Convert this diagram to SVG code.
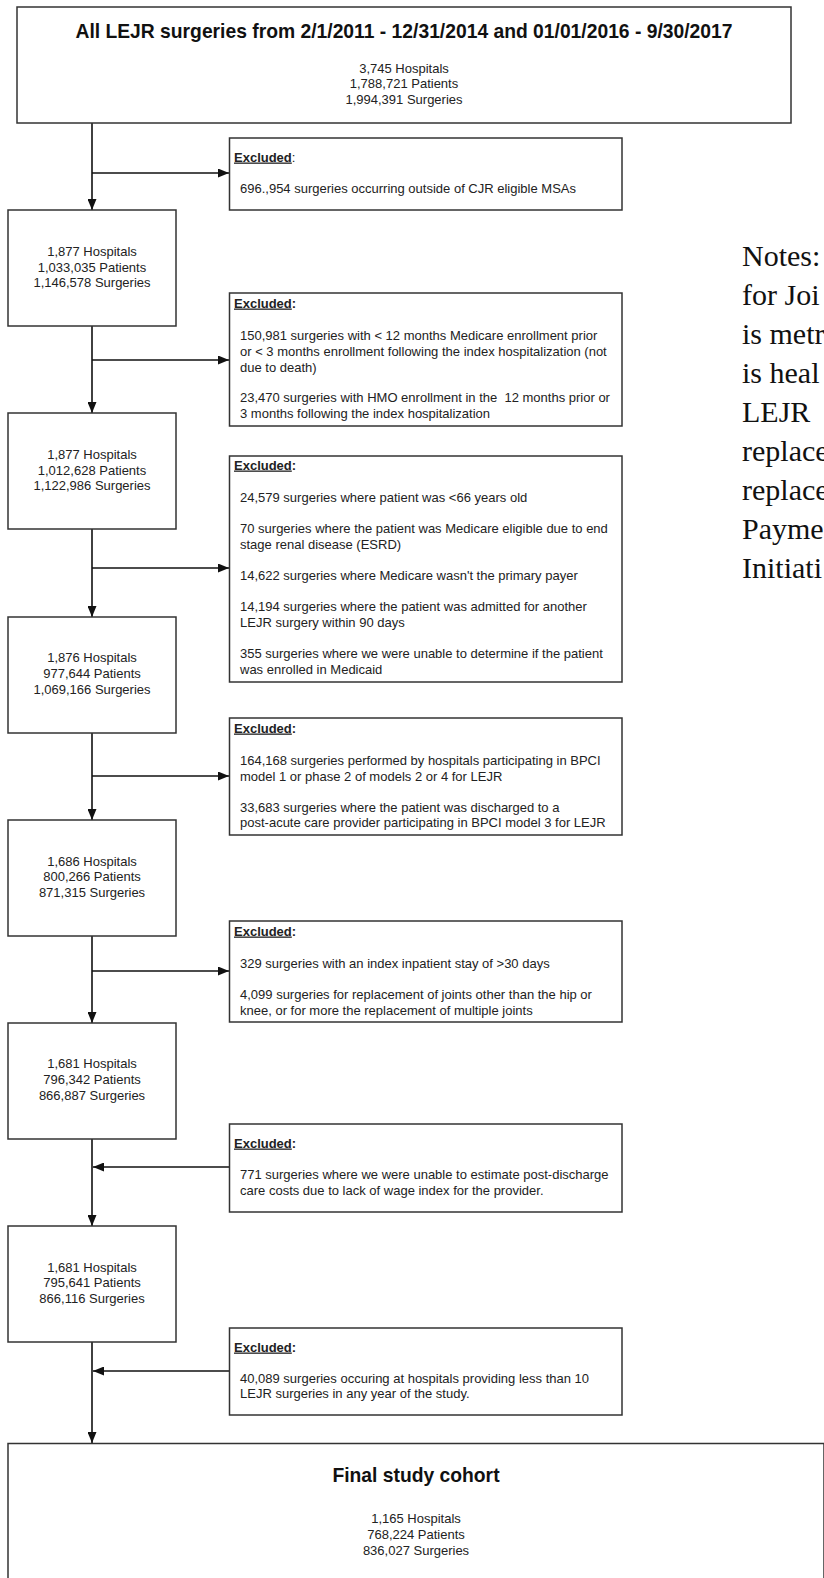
<svg xmlns="http://www.w3.org/2000/svg" width="824" height="1578" viewBox="0 0 824 1578">
<style>
.box{fill:#fff;stroke:#333;stroke-width:1.5}
.t{font-family:"Liberation Sans",Arial,sans-serif;font-size:13px;fill:#222}
.c{text-anchor:middle}
.h{font-family:"Liberation Sans",Arial,sans-serif;font-weight:bold;font-size:19.3px;fill:#111;text-anchor:middle}
.ex{font-family:"Liberation Sans",Arial,sans-serif;font-size:13px;font-weight:bold;fill:#222}
.u{text-decoration:underline}
.cn{fill:none;stroke:#111;stroke-width:1.6}
.note{font-family:"Liberation Serif","Times New Roman",serif;font-size:30px;fill:#111}
</style>
<defs>
<marker id="ah" viewBox="0 0 11 9" refX="11" refY="4.5" markerWidth="11" markerHeight="9" markerUnits="userSpaceOnUse" orient="auto">
<path d="M0,0 L11,4.5 L0,9 Z" fill="#111"/>
</marker>
</defs>

<g id="connectors">
<line class="cn" x1="92" y1="123" x2="92" y2="210" marker-end="url(#ah)"/>
<line class="cn" x1="92" y1="173" x2="229" y2="173" marker-end="url(#ah)"/>
<line class="cn" x1="92" y1="326" x2="92" y2="413" marker-end="url(#ah)"/>
<line class="cn" x1="92" y1="360" x2="229" y2="360" marker-end="url(#ah)"/>
<line class="cn" x1="92" y1="529" x2="92" y2="617" marker-end="url(#ah)"/>
<line class="cn" x1="92" y1="568" x2="229" y2="568" marker-end="url(#ah)"/>
<line class="cn" x1="92" y1="733" x2="92" y2="820" marker-end="url(#ah)"/>
<line class="cn" x1="92" y1="776" x2="229" y2="776" marker-end="url(#ah)"/>
<line class="cn" x1="92" y1="936" x2="92" y2="1023" marker-end="url(#ah)"/>
<line class="cn" x1="92" y1="971" x2="229" y2="971" marker-end="url(#ah)"/>
<line class="cn" x1="92" y1="1139" x2="92" y2="1226" marker-end="url(#ah)"/>
<line class="cn" x1="229" y1="1167" x2="93" y2="1167" marker-end="url(#ah)"/>
<line class="cn" x1="92" y1="1342" x2="92" y2="1443" marker-end="url(#ah)"/>
<line class="cn" x1="229" y1="1371" x2="93" y2="1371" marker-end="url(#ah)"/>
</g>

<g id="top">
<rect class="box" x="17" y="7" width="774" height="116"/>
<text class="h" x="404" y="38">All LEJR surgeries from 2/1/2011 - 12/31/2014 and 01/01/2016 - 9/30/2017</text>
<text class="t c" x="404" y="72.8">3,745 Hospitals</text>
<text class="t c" x="404" y="88">1,788,721 Patients</text>
<text class="t c" x="404" y="103.5">1,994,391 Surgeries</text>
</g>

<g id="ex1">
<rect class="box" x="229.5" y="138" width="392.5" height="72"/>
<text class="ex" x="234" y="161.5"><tspan class="u">Excluded</tspan><tspan font-weight="normal">:</tspan></text>
<text class="t" x="240" y="192.5">696.,954 surgeries occurring outside of CJR eligible MSAs</text>
</g>

<g id="nA">
<rect class="box" x="8" y="210" width="168" height="116"/>
<text class="t c" x="92" y="255.5">1,877 Hospitals</text>
<text class="t c" x="92" y="271.5">1,033,035 Patients</text>
<text class="t c" x="92" y="286.5">1,146,578 Surgeries</text>
</g>

<g id="ex2">
<rect class="box" x="229.5" y="293" width="392.5" height="133"/>
<text class="ex" x="234" y="307.5"><tspan class="u">Excluded</tspan>:</text>
<text class="t" x="240" y="339.5">150,981 surgeries with &lt; 12 months Medicare enrollment prior</text>
<text class="t" x="240" y="355.5">or &lt; 3 months enrollment following the index hospitalization (not</text>
<text class="t" x="240" y="371.5">due to death)</text>
<text class="t" x="240" y="401.5" xml:space="preserve">23,470 surgeries with HMO enrollment in the  12 months prior or</text>
<text class="t" x="240" y="417.5">3 months following the index hospitalization</text>
</g>

<g id="nB">
<rect class="box" x="8" y="413" width="168" height="116"/>
<text class="t c" x="92" y="458.5">1,877 Hospitals</text>
<text class="t c" x="92" y="474.5">1,012,628 Patients</text>
<text class="t c" x="92" y="489.5">1,122,986 Surgeries</text>
</g>

<g id="ex3">
<rect class="box" x="229.5" y="456" width="392.5" height="226"/>
<text class="ex" x="234" y="469.5"><tspan class="u">Excluded</tspan>:</text>
<text class="t" x="240" y="501.5">24,579 surgeries where patient was &lt;66 years old</text>
<text class="t" x="240" y="532.5">70 surgeries where the patient was Medicare eligible due to end</text>
<text class="t" x="240" y="548.5">stage renal disease (ESRD)</text>
<text class="t" x="240" y="579.5">14,622 surgeries where Medicare wasn't the primary payer</text>
<text class="t" x="240" y="610.5">14,194 surgeries where the patient was admitted for another</text>
<text class="t" x="240" y="626.5">LEJR surgery within 90 days</text>
<text class="t" x="240" y="657.5">355 surgeries where we were unable to determine if the patient</text>
<text class="t" x="240" y="673.5">was enrolled in Medicaid</text>
</g>

<g id="nC">
<rect class="box" x="8" y="617" width="168" height="116"/>
<text class="t c" x="92" y="661.5">1,876 Hospitals</text>
<text class="t c" x="92" y="677.5">977,644 Patients</text>
<text class="t c" x="92" y="693.5">1,069,166 Surgeries</text>
</g>

<g id="ex4">
<rect class="box" x="229.5" y="718" width="392.5" height="117"/>
<text class="ex" x="234" y="732.5"><tspan class="u">Excluded</tspan>:</text>
<text class="t" x="240" y="764.5">164,168 surgeries performed by hospitals participating in BPCI</text>
<text class="t" x="240" y="780.5">model 1 or phase 2 of models 2 or 4 for LEJR</text>
<text class="t" x="240" y="811.5">33,683 surgeries where the patient was discharged to a</text>
<text class="t" x="240" y="826.5">post-acute care provider participating in BPCI model 3 for LEJR</text>
</g>

<g id="nD">
<rect class="box" x="8" y="820" width="168" height="116"/>
<text class="t c" x="92" y="865.5">1,686 Hospitals</text>
<text class="t c" x="92" y="880.5">800,266 Patients</text>
<text class="t c" x="92" y="896.5">871,315 Surgeries</text>
</g>

<g id="ex5">
<rect class="box" x="229.5" y="921" width="392.5" height="101"/>
<text class="ex" x="234" y="935.5"><tspan class="u">Excluded</tspan>:</text>
<text class="t" x="240" y="967.5">329 surgeries with an index inpatient stay of &gt;30 days</text>
<text class="t" x="240" y="998.5">4,099 surgeries for replacement of joints other than the hip or</text>
<text class="t" x="240" y="1014.5">knee, or for more the replacement of multiple joints</text>
</g>

<g id="nE">
<rect class="box" x="8" y="1023" width="168" height="116"/>
<text class="t c" x="92" y="1067.5">1,681 Hospitals</text>
<text class="t c" x="92" y="1083.5">796,342 Patients</text>
<text class="t c" x="92" y="1099.5">866,887 Surgeries</text>
</g>

<g id="ex6">
<rect class="box" x="229.5" y="1124" width="392.5" height="88"/>
<text class="ex" x="234" y="1147.5"><tspan class="u">Excluded</tspan>:</text>
<text class="t" x="240" y="1178.5">771 surgeries where we were unable to estimate post-discharge</text>
<text class="t" x="240" y="1194.5">care costs due to lack of wage index for the provider.</text>
</g>

<g id="nF">
<rect class="box" x="8" y="1226" width="168" height="116"/>
<text class="t c" x="92" y="1271.5">1,681 Hospitals</text>
<text class="t c" x="92" y="1286.5">795,641 Patients</text>
<text class="t c" x="92" y="1302.5">866,116 Surgeries</text>
</g>

<g id="ex7">
<rect class="box" x="229.5" y="1328" width="392.5" height="87"/>
<text class="ex" x="234" y="1351.5"><tspan class="u">Excluded</tspan>:</text>
<text class="t" x="240" y="1382.5">40,089 surgeries occuring at hospitals providing less than 10</text>
<text class="t" x="240" y="1397.5">LEJR surgeries in any year of the study.</text>
</g>

<g id="final">
<rect class="box" x="8" y="1443.5" width="816" height="160"/>
<text class="h" x="416" y="1482">Final study cohort</text>
<text class="t c" x="416" y="1522.5">1,165 Hospitals</text>
<text class="t c" x="416" y="1538.5">768,224 Patients</text>
<text class="t c" x="416" y="1554.5">836,027 Surgeries</text>
</g>

<g id="notes">
<text class="note" x="742" y="266">Notes:</text>
<text class="note" x="742" y="305">for Joi</text>
<text class="note" x="742" y="344">is metr</text>
<text class="note" x="742" y="383">is heal</text>
<text class="note" x="742" y="422">LEJR</text>
<text class="note" x="742" y="461">replace</text>
<text class="note" x="742" y="500">replace</text>
<text class="note" x="742" y="539">Payme</text>
<text class="note" x="742" y="578">Initiati</text>
</g>
</svg>
